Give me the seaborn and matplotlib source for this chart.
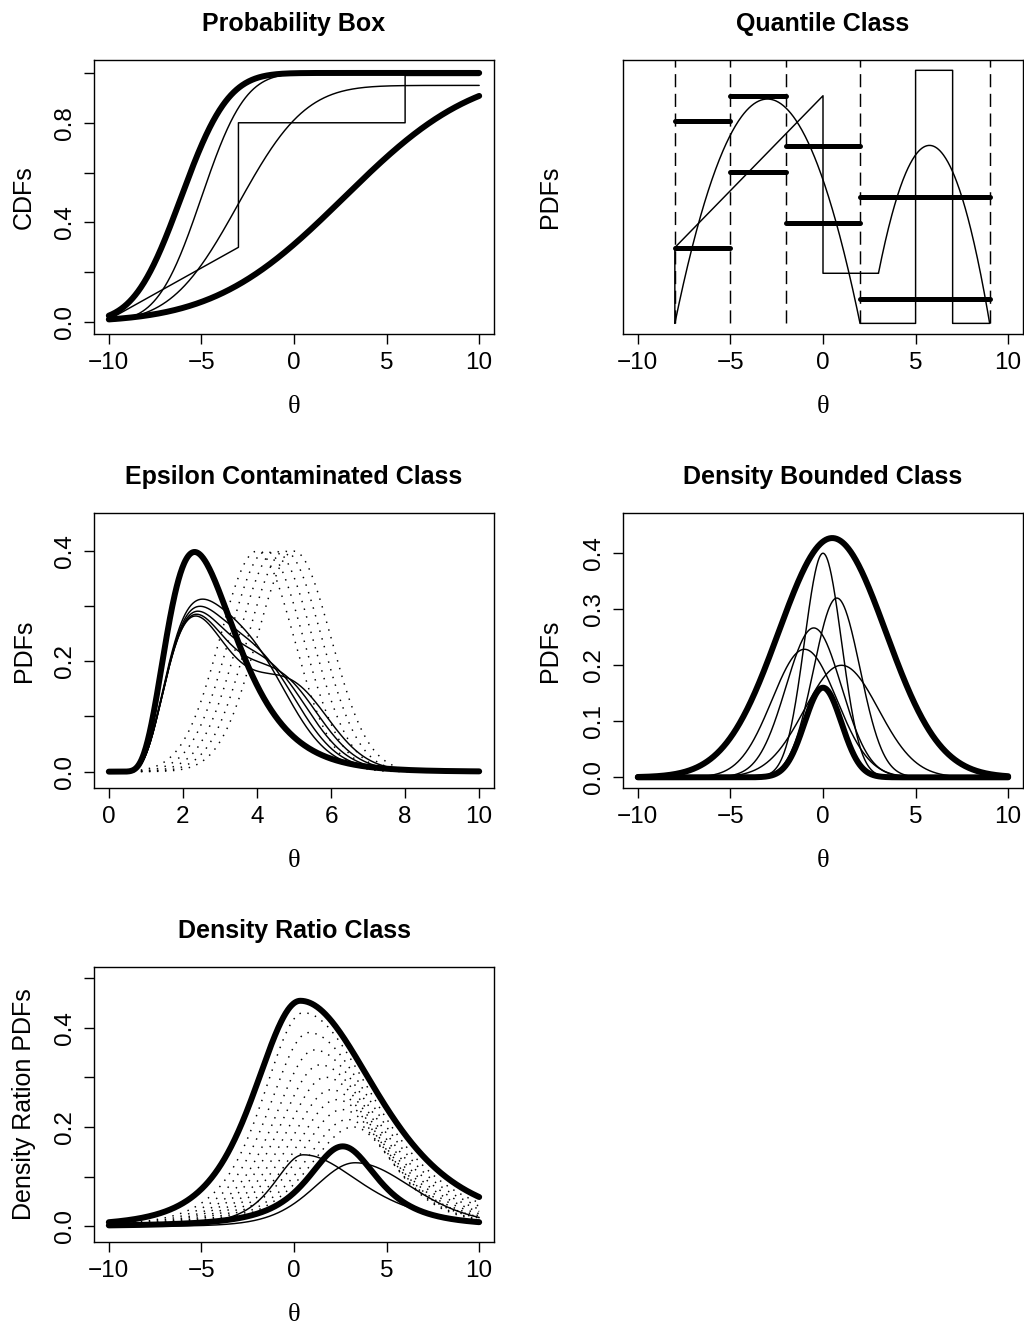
import math
import numpy as np
import matplotlib
matplotlib.use("Agg")
import matplotlib.pyplot as plt
import seaborn as sns

# ---------------- Probability box (CDFs) ----------------
pbox_upper = (-6.1, 2.0)          # normal (mean, sd) of the upper CDF bound
pbox_lower = (2.7, 5.5)           # normal (mean, sd) of the lower CDF bound
pbox_member_mean = [-5.0, -3.0]
pbox_member_sd = [1.85, 2.85]
pbox_member_mass = [1.0, 0.95]
pbox_step_x = [-10, -3, -3, 6, 6, 10]
pbox_step_y = [0.01, 0.30, 0.80, 0.80, 0.99, 0.99]

# ---------------- Quantile class ----------------
q_breaks = [-8, -5, -2, 2, 9]
q_lower = [0.0507, 0.1013, 0.0674, 0.0165]
q_upper = [0.1355, 0.1522, 0.1185, 0.0844]
parab_roots = (-8.0, 2.0)
parab_peak = 0.150
block_x = [2, 5, 5, 7, 7, 9]
block_y = [0.0, 0.0, 0.1692, 0.1692, 0.0, 0.0]
ramp_x = [-8, -8, 0, 0, 3]
ramp_y = [0.0, 0.0507, 0.1522, 0.0335, 0.0335]
hump_center, hump_peak, hump_start, hump_end = 5.75, 0.119, 3.0, 9.0

# ---------------- Epsilon contaminated class ----------------
base_lognorm = (1.0, 0.4)         # meanlog, sdlog
eps = 0.3
contam_means = [4.0, 4.25, 4.5, 4.75, 5.0]
contam_sd = 1.0

# ---------------- Density bounded class ----------------
db_means = [0.0, 0.75, -0.5, -1.0, 1.0]
db_sds = [1.0, 1.25, 1.5, 1.75, 2.0]
db_upper = (0.5, 2.9, 0.426)      # centre, width, peak height
db_lower_scale = 0.4              # times the N(0, 1) density

# ---------------- Density ratio class ----------------
# split Student-t shapes: (location, peak, left scale, right scale, df)
dr_upper = (0.34, 0.454, 2.6, 4.3, 4)
dr_lower = (2.63, 0.161, 2.1, 2.1, 2)
dr_members = [(0.5, 0.144, 1.7, 3.4, 3), (3.3, 0.128, 2.3, 3.2, 8)]
dr_dot_loc = [0.5, 0.8, 1.1, 1.4, 1.7, 2.0, 2.3, 2.6, 2.9, 3.2]
dr_dot_peak = [0.43, 0.39, 0.355, 0.325, 0.30, 0.275, 0.255, 0.235, 0.215, 0.20]
dr_dot_left = [2.3, 2.3, 2.3, 2.35, 2.35, 2.4, 2.4, 2.45, 2.45, 2.5]
dr_dot_right = [4.0, 3.8, 3.6, 3.4, 3.2, 3.0, 2.85, 2.7, 2.55, 2.4]


_erf = np.vectorize(math.erf)


def norm_pdf(x, m, s):
    return np.exp(-0.5 * ((x - m) / s) ** 2) / (s * np.sqrt(2 * np.pi))


def norm_cdf(x, m, s):
    return 0.5 * (1 + _erf((x - m) / (s * np.sqrt(2))))


def lognorm_pdf(x, mu, sig):
    out = np.zeros_like(x)
    pos = x > 0
    out[pos] = np.exp(-0.5 * ((np.log(x[pos]) - mu) / sig) ** 2) / (x[pos] * sig * np.sqrt(2 * np.pi))
    return out


def split_t(x, loc, peak, sl, sr, df):
    s = np.where(x < loc, sl, sr)
    z = (x - loc) / s
    return peak * (1 + z * z / df) ** (-(df + 1) / 2)


THICK, THIN = 4.3, 1.05
DOTTED = (0, (1.0, 4.5))
DASHED = (0, (9, 4.5))


def trace(ax, x, y, lw=THIN, ls="-"):
    sns.lineplot(x=np.asarray(x, float), y=np.asarray(y, float), ax=ax, sort=False,
                 estimator=None, errorbar=None, color="black", linewidth=lw,
                 linestyle=ls, solid_capstyle="round", solid_joinstyle="round",
                 dash_capstyle="butt")


sns.set_theme(style="ticks")
plt.rcParams["font.family"] = ["Liberation Sans", "DejaVu Sans"]
plt.rcParams.update({
    "axes.linewidth": 1.0,
    "axes.edgecolor": "black",
    "axes.labelcolor": "black",
    "text.color": "black",
    "xtick.major.size": 7,
    "ytick.major.size": 7,
    "xtick.major.width": 1.0,
    "ytick.major.width": 1.0,
    "xtick.major.pad": 6,
    "ytick.major.pad": 6,
    "xtick.color": "black",
    "ytick.color": "black",
    "xtick.labelcolor": "black",
    "ytick.labelcolor": "black",
    "axes.unicode_minus": True,
})

TICK_FS, LAB_FS, TITLE_FS = 17.5, 18, 18
SERIF = ["Liberation Serif", "DejaVu Serif"]


def minus(v):
    s = f"{v:g}"
    return s.replace("-", "\u2212")


def style(ax, title, xlim, ylim, xticks, yticks, ylabeled, ylabel, ylabelpad=13):
    ax.set_xlim(*xlim)
    ax.set_ylim(*ylim)
    ax.set_xticks(xticks)
    ax.set_xticklabels([minus(v) for v in xticks], fontsize=TICK_FS, color="black")
    if yticks:
        ax.set_yticks(yticks)
        ax.set_yticklabels([f"{v:.1f}" if v in ylabeled else "" for v in yticks],
                           fontsize=TICK_FS, rotation=90, va="center", color="black")
    else:
        ax.set_yticks([])
    ax.set_title(title, fontsize=TITLE_FS, fontweight="bold", pad=21, color="black")
    ax.set_xlabel("\u03b8", fontsize=LAB_FS + 1, family=SERIF, labelpad=16, color="black")
    ax.set_ylabel(ylabel, fontsize=LAB_FS, labelpad=ylabelpad, color="black")
    for sp in ax.spines.values():
        sp.set_visible(True)
        sp.set_color("black")
    ax.tick_params(top=False, right=False)


W, H = 1024, 1324
fig = plt.figure(figsize=(W / 100, H / 100), dpi=100)


def axes_at(left, top, right, bottom):
    return fig.add_axes([left / W, 1 - bottom / H, (right - left) / W, (bottom - top) / H])


ax1 = axes_at(94, 60, 494, 334)
ax2 = axes_at(623, 60, 1023, 334)
ax3 = axes_at(94, 513, 494, 788)
ax4 = axes_at(623, 513, 1023, 788)
ax5 = axes_at(94, 967, 494, 1242)

xs = np.linspace(-10, 10, 801)

# ---- Probability box ----
for m, s, k in zip(pbox_member_mean, pbox_member_sd, pbox_member_mass):
    trace(ax1, xs, k * norm_cdf(xs, m, s))
trace(ax1, pbox_step_x, pbox_step_y)
trace(ax1, xs, norm_cdf(xs, *pbox_upper), lw=THICK)
trace(ax1, xs, norm_cdf(xs, *pbox_lower), lw=THICK)
style(ax1, "Probability Box", (-10.8, 10.8), (-0.048, 1.052), [-10, -5, 0, 5, 10],
      [0.0, 0.2, 0.4, 0.6, 0.8, 1.0], [0.0, 0.4, 0.8], "CDFs")

# ---- Quantile class ----
q_top = 0.1761
for b in q_breaks:
    trace(ax2, [b, b], [0.0, q_top], ls=DASHED)
c = 0.5 * (parab_roots[0] + parab_roots[1])
half = 0.5 * (parab_roots[1] - parab_roots[0])
px = np.linspace(parab_roots[0], parab_roots[1], 301)
py = parab_peak * (1 - ((px - c) / half) ** 2)
trace(ax2, np.concatenate([px, block_x]), np.concatenate([py, block_y]))
hx = np.linspace(hump_start, hump_end, 201)
hy = hump_peak * (1 - ((hx - hump_center) / (hump_end - hump_center)) ** 2)
trace(ax2, np.concatenate([ramp_x, hx]), np.concatenate([ramp_y, hy]))
for i in range(len(q_lower)):
    seg = [q_breaks[i], q_breaks[i + 1]]
    trace(ax2, seg, [q_lower[i]] * 2, lw=3.6)
    trace(ax2, seg, [q_upper[i]] * 2, lw=3.6)
style(ax2, "Quantile Class", (-10.8, 10.8), (-0.0071, q_top), [-10, -5, 0, 5, 10],
      [], [], "PDFs", ylabelpad=44)

# ---- Epsilon contaminated class ----
xe = np.linspace(0, 10, 601)
base = lognorm_pdf(xe, *base_lognorm)
for m in contam_means:
    trace(ax3, xe, norm_pdf(xe, m, contam_sd), ls=DOTTED)
for m in contam_means:
    trace(ax3, xe, (1 - eps) * base + eps * norm_pdf(xe, m, contam_sd))
trace(ax3, xe, base, lw=THICK)
style(ax3, "Epsilon Contaminated Class", (-0.4, 10.4), (-0.0296, 0.468),
      [0, 2, 4, 6, 8, 10], [0.0, 0.1, 0.2, 0.3, 0.4], [0.0, 0.2, 0.4], "PDFs")

# ---- Density bounded class ----
for m, s in zip(db_means, db_sds):
    trace(ax4, xs, norm_pdf(xs, m, s))
uc, uw, up = db_upper
trace(ax4, xs, up * np.exp(-0.5 * ((xs - uc) / uw) ** 2), lw=THICK)
trace(ax4, xs, db_lower_scale * norm_pdf(xs, 0, 1), lw=THICK)
style(ax4, "Density Bounded Class", (-10.8, 10.8), (-0.019, 0.4706), [-10, -5, 0, 5, 10],
      [0.0, 0.1, 0.2, 0.3, 0.4], [0.0, 0.1, 0.2, 0.3, 0.4], "PDFs", ylabelpad=15)

# ---- Density ratio class ----
for loc, pk, sl, sr in zip(dr_dot_loc, dr_dot_peak, dr_dot_left, dr_dot_right):
    trace(ax5, xs, split_t(xs, loc, pk, sl, sr, 4), ls=DOTTED)
for prm in dr_members:
    trace(ax5, xs, split_t(xs, *prm))
trace(ax5, xs, split_t(xs, *dr_upper), lw=THICK)
trace(ax5, xs, split_t(xs, *dr_lower), lw=THICK)
style(ax5, "Density Ratio Class", (-10.8, 10.8), (-0.0315, 0.522), [-10, -5, 0, 5, 10],
      [0.0, 0.1, 0.2, 0.3, 0.4, 0.5], [0.0, 0.2, 0.4], "Density Ration PDFs")

fig.savefig("out.png", dpi=100, facecolor="white")
